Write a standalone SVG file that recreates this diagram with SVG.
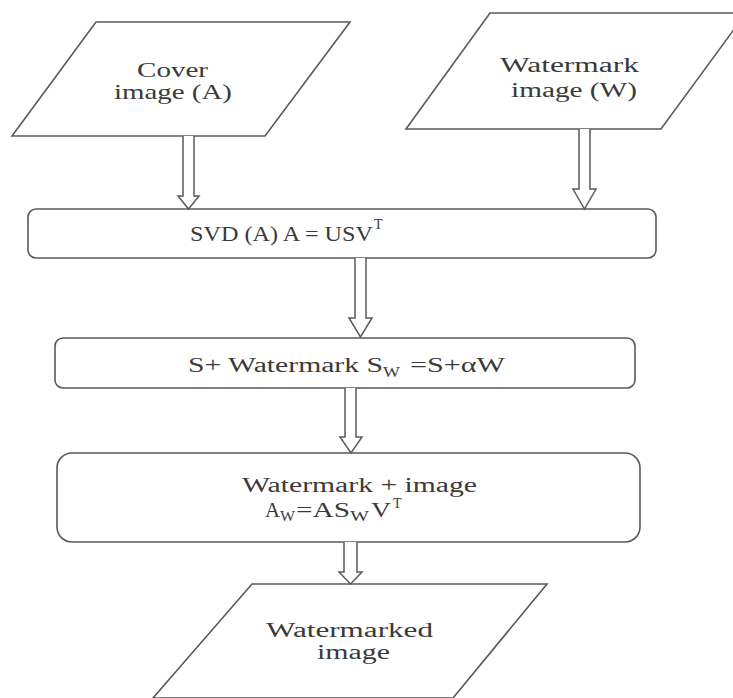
<svg xmlns="http://www.w3.org/2000/svg" width="733" height="698" viewBox="0 0 733 698">
<style>
.shape{fill:#fff;stroke:#5a5a5a;stroke-width:1.6}
.arrow{fill:#fff;stroke:#5a5a5a;stroke-width:1.5;stroke-linejoin:miter}
.t{font-family:"Liberation Serif","DejaVu Serif","Times New Roman",serif;fill:#3a3a3a;font-size:20px}
.s{font-family:"Liberation Serif","DejaVu Serif","Times New Roman",serif;fill:#3a3a3a;font-size:14px}
</style>
<rect width="733" height="698" fill="#fff"/>
<g id="cover">
<polygon class="shape" points="96,22 350,22 265,136 12,136"/>
<text class="t" x="137" y="77" textLength="71" lengthAdjust="spacingAndGlyphs" style="font-size:21px">Cover</text>
<text class="t" x="114" y="99" textLength="118" lengthAdjust="spacingAndGlyphs" style="font-size:21px">image (A)</text>
</g>
<g id="watermark">
<polygon class="shape" points="490,13 746,13 661,129 406,129"/>
<text class="t" x="500" y="72" textLength="139" lengthAdjust="spacingAndGlyphs">Watermark</text>
<text class="t" x="511" y="97" textLength="126" lengthAdjust="spacingAndGlyphs">image (W)</text>
</g>
<g id="svd">
<rect class="shape" x="28" y="209" width="628" height="49" rx="8"/>
<text class="t" x="190" y="241" textLength="183" lengthAdjust="spacingAndGlyphs" style="font-size:22px">SVD (A) A = USV</text>
<text class="s" x="374" y="229">T</text>
</g>
<g id="embed">
<rect class="shape" x="55" y="338" width="580" height="50" rx="8"/>
<text class="t" x="188" y="372" textLength="195" lengthAdjust="spacingAndGlyphs">S+ Watermark S</text>
<text class="s" x="383" y="377" textLength="17" lengthAdjust="spacingAndGlyphs">W</text>
<text class="t" x="410" y="372" textLength="95" lengthAdjust="spacingAndGlyphs">=S+αW</text>
</g>
<g id="combine">
<rect class="shape" x="57" y="453" width="583" height="89" rx="15"/>
<text class="t" x="242" y="492" textLength="235" lengthAdjust="spacingAndGlyphs">Watermark + image</text>
<text class="t" x="265" y="517" textLength="15" lengthAdjust="spacingAndGlyphs">A</text>
<text class="s" x="280" y="521" textLength="15" lengthAdjust="spacingAndGlyphs">W</text>
<text class="t" x="296" y="517" textLength="54" lengthAdjust="spacingAndGlyphs">=AS</text>
<text class="s" x="350" y="521" textLength="19" lengthAdjust="spacingAndGlyphs">W</text>
<text class="t" x="371" y="517" textLength="20" lengthAdjust="spacingAndGlyphs">V</text>
<text class="s" x="393" y="508">T</text>
</g>
<g id="output">
<polygon class="shape" points="252,584 547,584 453,698 153,698"/>
<text class="t" x="266" y="637" textLength="167" lengthAdjust="spacingAndGlyphs">Watermarked</text>
<text class="t" x="317" y="659" textLength="73" lengthAdjust="spacingAndGlyphs">image</text>
</g>
<g id="connectors">
<path class="arrow" d="M183,136 V196 H178 L188.5,209 L199,196 H194 V136"/>
<path class="arrow" d="M579,129 V189 H573 L584.5,209 L596,189 H590 V129"/>
<path class="arrow" d="M355,258 V318 H349 L360.5,337 L372,318 H366 V258"/>
<path class="arrow" d="M345,388 V437 H340 L351,453 L362,437 H356 V388"/>
<path class="arrow" d="M344,542 V572 H339 L350.5,584 L362,572 H357 V542"/>
</g>
</svg>
